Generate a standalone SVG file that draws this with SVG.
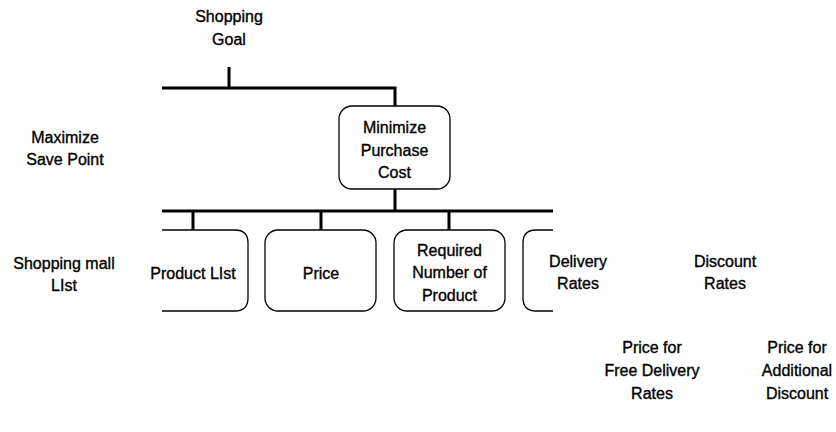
<svg xmlns="http://www.w3.org/2000/svg" width="836" height="432" viewBox="0 0 836 432">
<style>
text{font-family:"Liberation Sans",Arial,sans-serif;font-size:16px;fill:#000;stroke:#000;stroke-width:0.35;text-anchor:middle}
.box{fill:#fff;stroke:#000;stroke-width:1.3}
.conn{fill:none;stroke:#000;stroke-width:3}
</style>
<rect width="836" height="432" fill="#fff"/>
<g id="connectors">
<path class="conn" d="M229 67V88M162 88H395V106"/>
<path class="conn" d="M395 189V211M162 211H553M193 211V230M321 211V230M449 211V230"/>
</g>
<g id="shopping-goal"><text x="229" y="22">Shopping</text><text x="229" y="45">Goal</text></g>
<g id="maximize-save-point"><text x="65" y="143">Maximize</text><text x="65" y="165">Save Point</text></g>
<g id="minimize-purchase-cost"><rect class="box" x="339" y="106" width="111" height="83" rx="13"/><text x="394.5" y="133">Minimize</text><text x="394.5" y="156">Purchase</text><text x="394.5" y="178">Cost</text></g>
<g id="shopping-mall-list"><text x="64" y="269">Shopping mall</text><text x="64" y="291">LIst</text></g>
<g id="product-list"><path class="box" d="M162 230H235Q248 230 248 243V298Q248 311 235 311H162"/><text x="193" y="279">Product LIst</text></g>
<g id="price"><rect class="box" x="265" y="230" width="111" height="81" rx="13"/><text x="321" y="279">Price</text></g>
<g id="required-number"><rect class="box" x="394" y="230" width="111" height="81" rx="13"/><text x="449.5" y="256">Required</text><text x="449.5" y="278">Number of</text><text x="449.5" y="301">Product</text></g>
<g id="delivery-rates"><path class="box" d="M553 230H536Q523 230 523 243V298Q523 311 536 311H553"/><text x="578" y="267">Delivery</text><text x="578" y="289">Rates</text></g>
<g id="discount-rates"><text x="725" y="267">Discount</text><text x="725" y="289">Rates</text></g>
<g id="price-free-delivery"><text x="652" y="353">Price for</text><text x="652" y="376">Free Delivery</text><text x="652" y="399">Rates</text></g>
<g id="price-additional-discount"><text x="797" y="353">Price for</text><text x="797" y="376">Additional</text><text x="797" y="399">Discount</text></g>
</svg>
